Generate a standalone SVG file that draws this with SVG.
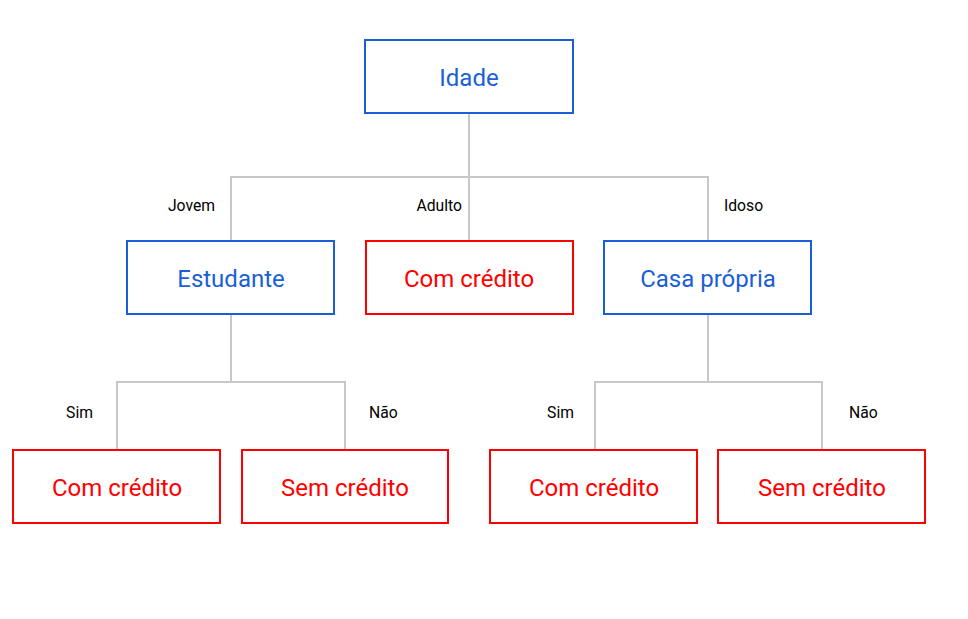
<svg xmlns="http://www.w3.org/2000/svg" width="968" height="619" viewBox="0 0 968 619">
<style>
.n rect{fill:#fff;stroke-width:2}
.b rect{stroke:#1a5fd6}
.r rect{stroke:#ff0000}
.n text{font-family:Roboto,"Liberation Sans",sans-serif;font-size:24px;text-anchor:middle;dominant-baseline:central}
.b text{fill:#1a5fd6}
.r text{fill:#ff0000}
.c path{fill:none;stroke:#c8c8c8;stroke-width:2}
.l{font-family:Roboto,"Liberation Sans",sans-serif;font-size:15.7px;fill:#000;dominant-baseline:central}
</style>
<rect width="968" height="619" fill="#fff"/>
<g class="c" id="connectors">
<path d="M469 113V177M231 241V177H708V241M469 177V241"/>
<path d="M231 314V382M117 450V382H345V450"/>
<path d="M708 314V382M595 450V382H822V450"/>
</g>
<g id="labels">
<text class="l" x="215" y="205" text-anchor="end">Jovem</text>
<text class="l" x="462" y="205" text-anchor="end">Adulto</text>
<text class="l" x="724" y="205">Idoso</text>
<text class="l" x="93" y="412" text-anchor="end">Sim</text>
<text class="l" x="369" y="412">Não</text>
<text class="l" x="574" y="412" text-anchor="end">Sim</text>
<text class="l" x="849" y="412">Não</text>
</g>
<g id="idade" class="n b"><rect x="365" y="40" width="208" height="73"/><text x="469" y="78">Idade</text></g>
<g id="estudante" class="n b"><rect x="127" y="241" width="207" height="73"/><text x="231" y="279">Estudante</text></g>
<g id="adulto-credito" class="n r"><rect x="366" y="241" width="207" height="73"/><text x="469" y="279">Com crédito</text></g>
<g id="casa" class="n b"><rect x="604" y="241" width="207" height="73"/><text x="708" y="279">Casa própria</text></g>
<g id="est-sim" class="n r"><rect x="13" y="450" width="207" height="73"/><text x="117" y="488">Com crédito</text></g>
<g id="est-nao" class="n r"><rect x="242" y="450" width="206" height="73"/><text x="345" y="488">Sem crédito</text></g>
<g id="casa-sim" class="n r"><rect x="490" y="450" width="207" height="73"/><text x="594" y="488">Com crédito</text></g>
<g id="casa-nao" class="n r"><rect x="718" y="450" width="207" height="73"/><text x="822" y="488">Sem crédito</text></g>
</svg>
